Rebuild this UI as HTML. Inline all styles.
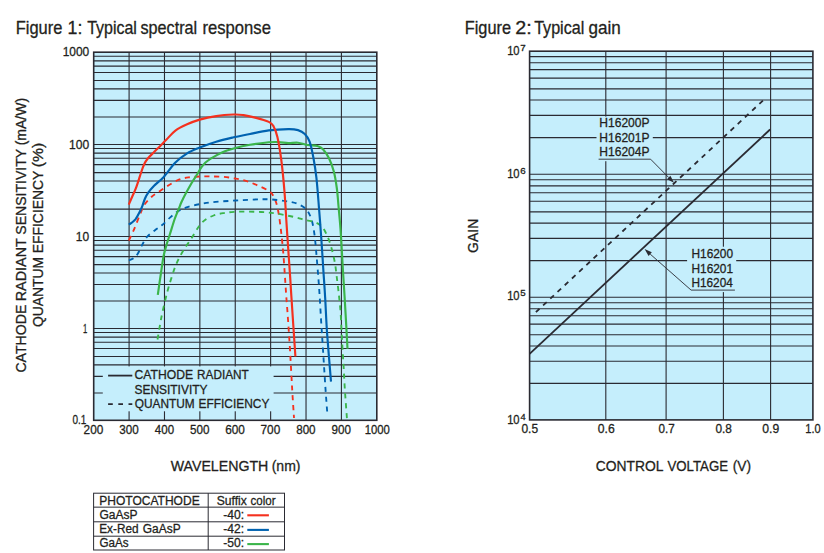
<!DOCTYPE html>
<html lang="en">
<head>
<meta charset="utf-8">
<title>Typical spectral response / Typical gain</title>
<style>
html,body{margin:0;padding:0;background:#fff;}
body{width:824px;height:553px;overflow:hidden;font-family:"Liberation Sans",Arial,Helvetica,sans-serif;}
svg{display:block;}
text{white-space:pre;stroke:#231f20;stroke-width:0.3px;stroke-linejoin:round;}
</style>
</head>
<body>
<svg width="824" height="553" viewBox="0 0 824 553" font-family="'Liberation Sans', Arial, Helvetica, sans-serif" fill="#231f20">
<!-- Figure 1 -->
<rect x="93.7" y="52.2" width="283.1" height="368.1" fill="#c5eefc"/>
<path d="M93.7 56.31H376.8M93.7 60.92H376.8M93.7 66.09H376.8M93.7 72.45H376.8M93.7 80.46H376.8M93.7 88.87H376.8M93.7 100.34H376.8M93.7 117.01H376.8M93.7 144.50H376.8M93.7 148.55H376.8M93.7 153.15H376.8M93.7 158.30H376.8M93.7 164.65H376.8M93.7 172.63H376.8M93.7 181.02H376.8M93.7 192.46H376.8M93.7 209.08H376.8M93.7 236.50H376.8M93.7 240.55H376.8M93.7 245.14H376.8M93.7 250.29H376.8M93.7 256.64H376.8M93.7 264.62H376.8M93.7 273.00H376.8M93.7 284.43H376.8M93.7 301.05H376.8M93.7 328.45H376.8M93.7 332.49H376.8M93.7 337.08H376.8M93.7 342.23H376.8M93.7 348.57H376.8M93.7 356.54H376.8M93.7 364.91H376.8M93.7 376.33H376.8M93.7 392.93H376.8M129.09 52.2V420.3M164.48 52.2V420.3M199.86 52.2V420.3M235.25 52.2V420.3M270.64 52.2V420.3M306.03 52.2V420.3M341.41 52.2V420.3" stroke="#2a2a32" stroke-width="1.1" fill="none"/>
<rect x="102.8" y="366.4" width="170.8" height="44.9" fill="#c5eefc"/>
<rect x="93.7" y="52.2" width="283.1" height="368.1" fill="none" stroke="#2a2a32" stroke-width="1.6"/>
<path d="M128.8 240.5C129.8 238.4 132.8 232.4 134.7 227.9C136.6 223.4 138.7 217.4 140.5 213.3C142.3 209.2 143.4 206.3 145.3 203.5C147.2 200.7 149.6 198.6 152.0 196.5C154.4 194.4 157.1 193.0 160.0 191.0C162.9 189.0 166.3 186.6 169.5 184.7C172.7 182.8 175.8 180.9 178.9 179.7C182.1 178.5 185.0 177.9 188.4 177.4C191.8 176.9 195.7 176.7 199.4 176.5C203.1 176.3 206.6 176.3 210.5 176.4C214.4 176.5 218.9 176.4 223.1 176.8C227.3 177.2 231.8 177.9 235.7 178.6C239.6 179.3 243.1 180.0 246.8 181.2C250.5 182.3 254.1 183.9 257.8 185.5C261.5 187.1 266.2 189.2 268.8 191.0C271.4 192.8 272.2 193.7 273.6 196.5C275.1 199.3 276.3 202.3 277.5 207.6C278.7 212.9 279.8 220.7 280.7 228.1C281.6 235.5 282.5 243.9 283.2 252.1C283.9 260.3 284.5 269.9 285.0 277.4C285.5 284.8 285.8 289.1 286.3 296.8C286.9 304.5 287.7 314.4 288.3 323.8C288.9 333.2 289.6 342.3 290.2 353.0C290.8 363.7 291.5 377.1 292.1 387.9C292.7 398.7 293.7 413.0 294.0 418.0" stroke="#f4311f" stroke-width="1.85" stroke-dasharray="5.1 4.7" fill="none"/>
<path d="M128.8 260.3C129.6 260.0 132.0 259.4 133.5 258.3C135.0 257.2 136.1 256.3 137.6 254.0C139.1 251.7 140.8 247.3 142.4 244.4C144.0 241.5 145.1 239.0 147.3 236.6C149.5 234.2 153.0 231.8 155.5 229.8C158.0 227.8 160.0 226.8 162.4 224.8C164.8 222.8 167.3 219.9 170.0 217.6C172.7 215.3 175.4 212.8 178.5 211.0C181.6 209.2 184.8 207.9 188.3 206.8C191.8 205.7 195.9 204.9 199.6 204.2C203.3 203.5 206.6 202.9 210.5 202.4C214.4 201.9 218.9 201.6 223.1 201.3C227.3 201.0 231.5 200.8 235.7 200.5C239.9 200.2 244.1 200.0 248.3 199.8C252.5 199.6 257.2 199.4 260.9 199.3C264.6 199.2 267.2 199.2 270.4 199.4C273.6 199.6 276.6 199.9 279.9 200.3C283.2 200.7 287.0 201.2 290.0 201.8C293.0 202.4 295.3 202.7 298.0 204.0C300.7 205.3 304.0 206.9 306.2 209.4C308.4 211.9 310.0 214.9 311.4 219.1C312.8 223.3 313.7 228.9 314.5 234.7C315.3 240.5 315.8 247.0 316.4 254.1C317.0 261.2 317.8 270.3 318.3 277.4C318.9 284.5 319.2 289.1 319.7 296.8C320.2 304.5 320.7 314.4 321.3 323.8C321.9 333.2 322.5 342.1 323.2 353.0C323.9 363.9 324.8 378.4 325.5 388.9C326.2 399.4 327.2 411.5 327.5 416.0" stroke="#0062b0" stroke-width="1.85" stroke-dasharray="5.1 4.7" fill="none"/>
<path d="M157.5 339.5C157.9 337.1 159.2 329.6 160.0 325.0C160.8 320.4 161.3 317.5 162.5 312.0C163.7 306.5 165.8 297.7 167.3 291.9C168.8 286.1 170.1 282.1 171.6 277.4C173.1 272.7 174.5 268.2 176.4 263.8C178.3 259.4 180.5 255.2 183.0 251.0C185.5 246.8 188.8 242.5 191.5 238.3C194.2 234.1 197.0 228.8 199.4 225.7C201.8 222.5 203.3 221.1 205.7 219.4C208.1 217.7 210.7 216.6 213.6 215.5C216.5 214.4 219.7 213.7 223.1 213.1C226.5 212.5 230.1 212.1 234.1 211.8C238.1 211.6 242.3 211.6 246.8 211.6C251.3 211.6 256.4 211.8 260.9 212.0C265.4 212.2 269.5 212.6 273.6 213.1C277.7 213.6 281.7 214.5 285.4 215.2C289.1 215.9 292.6 216.6 296.0 217.4C299.4 218.2 302.5 219.3 305.7 220.1C308.9 220.9 312.6 221.2 315.4 222.3C318.1 223.4 320.2 224.7 322.2 226.9C324.1 229.1 325.6 232.4 327.1 235.6C328.6 238.8 329.7 241.9 331.0 246.3C332.3 250.7 333.7 256.6 334.7 261.8C335.7 267.0 336.1 271.6 336.8 277.4C337.5 283.2 338.5 290.7 339.1 296.8C339.8 302.9 340.2 306.4 340.7 314.1C341.2 321.9 341.7 334.6 342.2 343.3C342.7 352.1 343.1 358.5 343.6 366.6C344.1 374.7 344.4 383.0 345.0 391.8C345.6 400.6 346.7 414.9 347.0 419.5" stroke="#3bb54a" stroke-width="1.85" stroke-dasharray="5.1 4.7" fill="none"/>
<path d="M157.8 294.9C158.3 291.3 159.9 280.0 160.9 273.5C161.9 267.0 162.7 260.6 163.6 256.0C164.5 251.4 165.2 249.6 166.2 246.0C167.2 242.4 168.4 238.9 169.8 234.5C171.2 230.1 173.1 223.7 174.5 219.5C175.9 215.3 177.3 212.4 178.5 209.5C179.7 206.6 180.3 204.6 181.5 202.0C182.7 199.4 183.9 196.8 185.6 193.7C187.3 190.6 189.7 186.3 191.5 183.2C193.3 180.1 195.0 177.7 196.7 175.0C198.4 172.3 200.0 169.3 201.5 167.2C203.0 165.1 204.0 163.9 205.5 162.5C207.0 161.1 207.7 160.5 210.4 158.8C213.2 157.1 218.1 154.1 222.0 152.4C225.9 150.7 229.0 149.8 233.7 148.5C238.4 147.2 244.2 145.8 250.0 144.8C255.8 143.8 264.1 142.8 268.8 142.3C273.6 141.9 275.2 142.0 278.5 142.1C281.8 142.2 285.1 143.0 288.3 143.1C291.6 143.2 294.8 142.4 298.0 142.7C301.2 143.0 304.5 144.4 307.7 145.0C310.9 145.6 314.8 145.2 317.4 146.0C320.0 146.8 321.3 147.4 323.2 149.5C325.1 151.6 327.2 154.6 329.0 158.3C330.8 162.0 332.6 166.9 333.9 171.8C335.2 176.8 336.0 182.3 336.8 188.0C337.6 193.7 337.9 199.2 338.5 206.0C339.1 212.8 340.0 221.8 340.5 228.8C341.0 235.9 341.3 241.2 341.7 248.3C342.1 255.4 342.5 263.5 343.0 271.6C343.5 279.7 344.2 289.7 344.6 296.8C345.0 303.9 345.1 305.5 345.6 314.1C346.1 322.8 347.2 342.9 347.5 348.7" stroke="#3bb54a" stroke-width="2.15" fill="none"/>
<path d="M128.8 224.6C129.3 224.2 130.9 223.4 132.0 222.5C133.1 221.6 134.3 220.8 135.6 219.1C136.8 217.4 138.4 214.5 139.5 212.3C140.6 210.1 141.5 208.1 142.4 205.8C143.3 203.5 144.0 200.8 145.0 198.5C146.0 196.2 147.1 194.3 148.6 192.2C150.1 190.1 151.6 188.4 154.1 185.8C156.6 183.2 160.2 180.8 163.8 176.9C167.4 173.0 171.5 166.5 175.4 162.6C179.3 158.7 183.1 155.9 187.1 153.4C191.1 150.9 194.8 149.6 199.7 147.6C204.5 145.6 210.5 143.4 216.2 141.7C221.9 140.0 228.1 138.6 233.7 137.3C239.3 136.0 244.2 135.2 250.0 134.0C255.8 132.8 262.4 131.2 268.8 130.4C275.2 129.6 283.4 129.2 288.3 129.1C293.2 129.0 295.2 129.3 298.0 130.1C300.8 130.9 302.9 132.1 304.8 134.0C306.7 135.9 308.2 137.6 309.6 141.7C311.1 145.8 312.4 152.3 313.5 158.3C314.6 164.3 315.5 169.6 316.4 177.7C317.3 185.8 318.1 196.7 318.9 206.8C319.7 216.9 320.6 228.3 321.3 238.5C322.0 248.7 322.6 258.0 323.2 267.7C323.8 277.4 324.5 285.8 325.1 296.8C325.8 307.8 326.1 319.4 327.1 333.5C328.1 347.6 330.4 373.7 331.0 381.7" stroke="#0062b0" stroke-width="2.15" fill="none"/>
<path d="M128.8 204.6C129.4 203.2 131.2 198.9 132.5 196.0C133.8 193.1 134.9 191.1 136.3 187.2C137.7 183.3 139.8 176.4 141.1 172.5C142.4 168.6 143.3 166.1 144.4 163.8C145.5 161.5 146.2 160.5 147.8 158.5C149.4 156.5 152.1 154.1 154.1 152.0C156.1 149.9 158.0 148.2 160.0 146.2C162.0 144.2 163.7 142.4 166.3 139.8C168.9 137.2 171.9 133.2 175.4 130.6C178.9 128.0 183.1 126.1 187.1 124.3C191.1 122.5 194.8 121.0 199.7 119.6C204.5 118.2 210.5 116.9 216.2 116.1C221.9 115.2 229.1 114.7 233.7 114.5C238.3 114.3 240.0 114.6 243.6 115.1C247.2 115.6 251.0 116.5 255.2 117.6C259.4 118.7 265.8 120.5 268.8 121.9C271.9 123.3 272.1 123.7 273.5 126.2C274.9 128.7 276.1 131.3 277.4 136.9C278.7 142.5 280.1 150.8 281.3 160.0C282.5 169.2 283.7 182.0 284.5 192.0C285.3 202.0 285.7 210.3 286.3 220.0C286.9 229.7 287.7 240.4 288.3 250.0C288.9 259.6 289.7 269.6 290.2 277.4C290.7 285.2 290.5 283.6 291.4 296.8C292.3 310.0 294.7 346.6 295.4 356.5" stroke="#f4311f" stroke-width="2.15" fill="none"/>
<path d="M108.1 375.6H132.3" stroke="#2a2a32" stroke-width="1.8"/>
<path d="M108.1 404.2H132.3" stroke="#2a2a32" stroke-width="1.8" stroke-dasharray="4.7 5.5"/>
<!-- photocathode table -->
<rect x="93.6" y="493.2" width="190.9" height="56.8" fill="#fff" stroke="#2a2a32" stroke-width="1"/>
<path d="M208.2 493.2V550.0M93.6 507.15H284.5M93.6 521.80H284.5M93.6 536.20H284.5" stroke="#2a2a32" stroke-width="1" fill="none"/>
<path d="M247.3 515.3H268.9" stroke="#f4311f" stroke-width="2.1"/>
<path d="M247.3 529.9H268.9" stroke="#0062b0" stroke-width="2.1"/>
<path d="M247.3 544.1H268.9" stroke="#3bb54a" stroke-width="2.1"/>
<!-- Figure 2 -->
<rect x="529.6" y="51.2" width="283.3" height="368.7" fill="#c5eefc"/>
<path d="M529.6 56.62H812.9M529.6 62.77H812.9M529.6 69.67H812.9M529.6 78.16H812.9M529.6 88.84H812.9M529.6 100.07H812.9M529.6 115.37H812.9M529.6 137.62H812.9M529.6 174.30H812.9M529.6 179.71H812.9M529.6 185.86H812.9M529.6 192.75H812.9M529.6 201.24H812.9M529.6 211.91H812.9M529.6 223.13H812.9M529.6 238.42H812.9M529.6 260.65H812.9M529.6 297.30H812.9M529.6 302.69H812.9M529.6 308.82H812.9M529.6 315.69H812.9M529.6 324.15H812.9M529.6 334.79H812.9M529.6 345.97H812.9M529.6 361.21H812.9M529.6 383.37H812.9M605.80 51.2V419.9M666.10 51.2V419.9M723.40 51.2V419.9M770.60 51.2V419.9" stroke="#2a2a32" stroke-width="1.1" fill="none"/>
<rect x="596.5" y="116.6" width="56.3" height="44.6" fill="#c5eefc"/>
<rect x="687.1" y="246.7" width="49.1" height="45.4" fill="#c5eefc"/>
<rect x="529.6" y="51.2" width="283.3" height="368.7" fill="none" stroke="#2a2a32" stroke-width="1.6"/>
<path d="M529.6 353.9L770.1 129.5" stroke="#2a2a32" stroke-width="1.8" fill="none"/>
<path d="M535.9 312.1L762.9 100.6" stroke="#2a2a32" stroke-width="1.8" stroke-dasharray="4.9 4.952" fill="none"/>
<path d="M598.6 159.2H650.6L668.7 177.5" stroke="#2a2a32" stroke-width="0.9" fill="none"/>
<path d="M674.0 182.8L667.0 179.2L670.4 175.8Z" fill="#2a2a32"/>
<path d="M734.9 290.1H691.1L650.2 254.1" stroke="#2a2a32" stroke-width="0.9" fill="none"/>
<path d="M644.6 249.1L651.8 252.3L648.6 255.9Z" fill="#2a2a32"/>
<!-- text -->
<text y="34.0" font-size="17.7"><tspan x="15.71" textLength="46.62" lengthAdjust="spacingAndGlyphs">Figure</tspan> <tspan x="67.64" textLength="14.83" lengthAdjust="spacingAndGlyphs">1:</tspan> <tspan x="87.15" textLength="49.74" lengthAdjust="spacingAndGlyphs">Typical</tspan> <tspan x="140.44" textLength="56.75" lengthAdjust="spacingAndGlyphs">spectral</tspan> <tspan x="202.53" textLength="68.39" lengthAdjust="spacingAndGlyphs">response</tspan></text>
<text y="34.0" font-size="17.7"><tspan x="464.71" textLength="46.31" lengthAdjust="spacingAndGlyphs">Figure</tspan> <tspan x="515.28" textLength="16.49" lengthAdjust="spacingAndGlyphs">2:</tspan> <tspan x="534.14" textLength="50.15" lengthAdjust="spacingAndGlyphs">Typical</tspan> <tspan x="588.48" textLength="32.28" lengthAdjust="spacingAndGlyphs">gain</tspan></text>
<text x="62.67" y="56.2" font-size="12.85" textLength="26.57" lengthAdjust="spacingAndGlyphs">1000</text>
<text x="68.96" y="148.6" font-size="12.85" textLength="20.15" lengthAdjust="spacingAndGlyphs">100</text>
<text x="75.87" y="240.9" font-size="12.85" textLength="13.34" lengthAdjust="spacingAndGlyphs">10</text>
<text x="83.00" y="332.9" font-size="12.85" textLength="4.29" lengthAdjust="spacingAndGlyphs">1</text>
<text x="72.51" y="423.7" font-size="12.85" textLength="13.86" lengthAdjust="spacingAndGlyphs">0.1</text>
<text x="83.61" y="434.0" font-size="12.85" textLength="19.69" lengthAdjust="spacingAndGlyphs">200</text>
<text x="119.23" y="434.0" font-size="12.85" textLength="19.45" lengthAdjust="spacingAndGlyphs">300</text>
<text x="154.85" y="434.0" font-size="12.85" textLength="19.22" lengthAdjust="spacingAndGlyphs">400</text>
<text x="190.01" y="434.0" font-size="12.85" textLength="19.45" lengthAdjust="spacingAndGlyphs">500</text>
<text x="225.16" y="434.0" font-size="12.85" textLength="19.69" lengthAdjust="spacingAndGlyphs">600</text>
<text x="260.55" y="434.0" font-size="12.85" textLength="19.69" lengthAdjust="spacingAndGlyphs">700</text>
<text x="296.17" y="434.0" font-size="12.85" textLength="19.45" lengthAdjust="spacingAndGlyphs">800</text>
<text x="331.56" y="434.0" font-size="12.85" textLength="19.45" lengthAdjust="spacingAndGlyphs">900</text>
<text x="364.72" y="434.0" font-size="12.85" textLength="25.19" lengthAdjust="spacingAndGlyphs">1000</text>
<text y="471.3" font-size="15.0"><tspan x="170.70" textLength="97.68" lengthAdjust="spacingAndGlyphs">WAVELENGTH</tspan> <tspan x="271.66" textLength="28.84" lengthAdjust="spacingAndGlyphs">(nm)</tspan></text>
<text transform="rotate(-90)" y="26.2" font-size="15.0"><tspan x="-372.61" textLength="68.00" lengthAdjust="spacingAndGlyphs">CATHODE</tspan> <tspan x="-301.29" textLength="62.82" lengthAdjust="spacingAndGlyphs">RADIANT</tspan> <tspan x="-234.70" textLength="85.61" lengthAdjust="spacingAndGlyphs">SENSITIVITY</tspan> <tspan x="-145.33" textLength="47.44" lengthAdjust="spacingAndGlyphs">(mA/W)</tspan></text>
<text transform="rotate(-90)" y="42.6" font-size="15.0"><tspan x="-327.09" textLength="70.22" lengthAdjust="spacingAndGlyphs">QUANTUM</tspan> <tspan x="-253.25" textLength="82.36" lengthAdjust="spacingAndGlyphs">EFFICIENCY</tspan> <tspan x="-167.15" textLength="24.48" lengthAdjust="spacingAndGlyphs">(%)</tspan></text>
<text y="379.0" font-size="12.85"><tspan x="134.49" textLength="58.57" lengthAdjust="spacingAndGlyphs">CATHODE</tspan> <tspan x="197.08" textLength="51.66" lengthAdjust="spacingAndGlyphs">RADIANT</tspan></text>
<text x="134.50" y="393.5" font-size="12.85" textLength="72.98" lengthAdjust="spacingAndGlyphs">SENSITIVITY</text>
<text y="407.6" font-size="12.85"><tspan x="134.74" textLength="59.93" lengthAdjust="spacingAndGlyphs">QUANTUM</tspan> <tspan x="198.57" textLength="70.76" lengthAdjust="spacingAndGlyphs">EFFICIENCY</tspan></text>
<text x="99.26" y="504.6" font-size="12.85" textLength="100.43" lengthAdjust="spacingAndGlyphs">PHOTOCATHODE</text>
<text x="99.50" y="518.7" font-size="12.85" textLength="38.16" lengthAdjust="spacingAndGlyphs">GaAsP</text>
<text y="533.3" font-size="12.85"><tspan x="99.28" textLength="39.28" lengthAdjust="spacingAndGlyphs">Ex-Red</tspan> <tspan x="142.80" textLength="37.85" lengthAdjust="spacingAndGlyphs">GaAsP</tspan></text>
<text x="99.52" y="547.2" font-size="12.85" textLength="29.12" lengthAdjust="spacingAndGlyphs">GaAs</text>
<text y="504.6" font-size="12.85"><tspan x="216.69" textLength="30.04" lengthAdjust="spacingAndGlyphs">Suffix</tspan> <tspan x="250.55" textLength="25.03" lengthAdjust="spacingAndGlyphs">color</tspan></text>
<text x="223.23" y="518.6" font-size="12.85" textLength="20.84" lengthAdjust="spacingAndGlyphs">-40:</text>
<text x="223.23" y="533.2" font-size="12.85" textLength="20.84" lengthAdjust="spacingAndGlyphs">-42:</text>
<text x="223.23" y="547.3" font-size="12.85" textLength="20.84" lengthAdjust="spacingAndGlyphs">-50:</text>
<text x="507.13" y="55.3" font-size="12.85" textLength="12.45" lengthAdjust="spacingAndGlyphs">10</text>
<text x="520.17" y="51.4" font-size="9.2" textLength="5.43" lengthAdjust="spacingAndGlyphs">7</text>
<text x="507.13" y="178.0" font-size="12.85" textLength="12.45" lengthAdjust="spacingAndGlyphs">10</text>
<text x="520.17" y="174.1" font-size="9.2" textLength="5.43" lengthAdjust="spacingAndGlyphs">6</text>
<text x="507.13" y="300.0" font-size="12.85" textLength="12.45" lengthAdjust="spacingAndGlyphs">10</text>
<text x="520.17" y="296.1" font-size="9.2" textLength="5.43" lengthAdjust="spacingAndGlyphs">5</text>
<text x="507.13" y="423.6" font-size="12.85" textLength="12.45" lengthAdjust="spacingAndGlyphs">10</text>
<text x="520.45" y="419.7" font-size="9.2" textLength="5.13" lengthAdjust="spacingAndGlyphs">4</text>
<text x="521.43" y="432.6" font-size="12.85" textLength="16.63" lengthAdjust="spacingAndGlyphs">0.5</text>
<text x="597.83" y="432.6" font-size="12.85" textLength="16.95" lengthAdjust="spacingAndGlyphs">0.6</text>
<text x="658.55" y="432.6" font-size="12.85" textLength="16.21" lengthAdjust="spacingAndGlyphs">0.7</text>
<text x="715.49" y="432.6" font-size="12.85" textLength="16.47" lengthAdjust="spacingAndGlyphs">0.8</text>
<text x="762.33" y="432.6" font-size="12.85" textLength="16.95" lengthAdjust="spacingAndGlyphs">0.9</text>
<text x="805.34" y="432.6" font-size="12.85" textLength="15.39" lengthAdjust="spacingAndGlyphs">1.0</text>
<text y="471.0" font-size="15.0"><tspan x="595.81" textLength="67.23" lengthAdjust="spacingAndGlyphs">CONTROL</tspan> <tspan x="667.48" textLength="60.59" lengthAdjust="spacingAndGlyphs">VOLTAGE</tspan> <tspan x="732.78" textLength="18.33" lengthAdjust="spacingAndGlyphs">(V)</tspan></text>
<text transform="rotate(-90)" x="-252.90" y="478.2" font-size="15.0" textLength="34.10" lengthAdjust="spacingAndGlyphs">GAIN</text>
<text x="599.36" y="127.4" font-size="12.85" textLength="50.16" lengthAdjust="spacingAndGlyphs">H16200P</text>
<text x="599.36" y="141.8" font-size="12.85" textLength="50.16" lengthAdjust="spacingAndGlyphs">H16201P</text>
<text x="599.36" y="156.4" font-size="12.85" textLength="50.16" lengthAdjust="spacingAndGlyphs">H16204P</text>
<text x="691.48" y="258.0" font-size="12.85" textLength="41.59" lengthAdjust="spacingAndGlyphs">H16200</text>
<text x="691.48" y="272.7" font-size="12.85" textLength="41.59" lengthAdjust="spacingAndGlyphs">H16201</text>
<text x="691.48" y="287.0" font-size="12.85" textLength="41.35" lengthAdjust="spacingAndGlyphs">H16204</text>
</svg>
</body>
</html>
